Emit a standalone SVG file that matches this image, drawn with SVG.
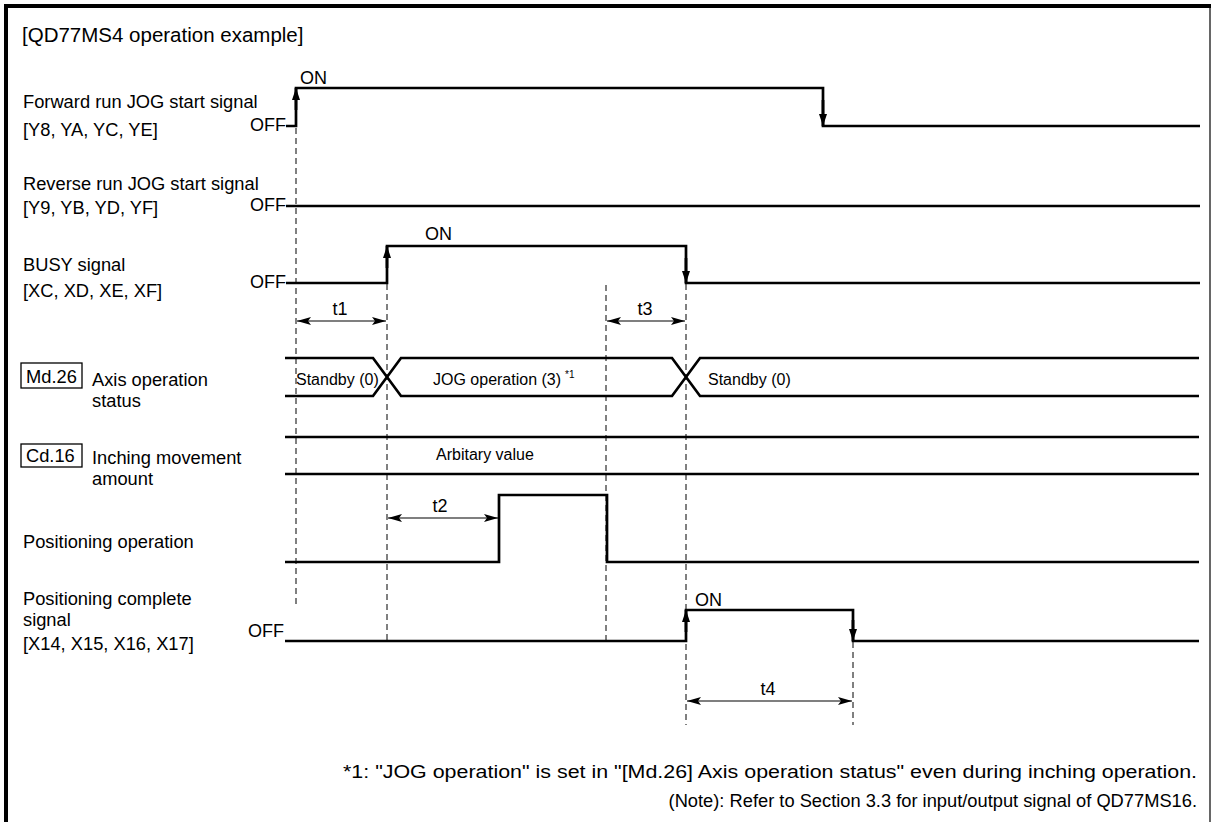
<svg xmlns="http://www.w3.org/2000/svg" width="1214" height="822" viewBox="0 0 1214 822">
<style>
text{font-family:"Liberation Sans",Arial,sans-serif;fill:#000}
.lbl{font-size:18.3px}
.ttl{font-size:20.5px}
.lv{font-size:18px}
.sm{font-size:16px}
.sup{font-size:10px}
.dim{font-size:18px}
.note{font-size:18.3px}
.sig{fill:none;stroke:#000;stroke-width:2.7}
.edge{fill:none;stroke:#000;stroke-width:2.7}
.dash{fill:none;stroke:#000;stroke-width:1;stroke-dasharray:6,4}
.dimln{fill:none;stroke:#000;stroke-width:1.2}
.box{fill:none;stroke:#000;stroke-width:1.3}
</style>
<defs>
<marker id="ah" viewBox="0 0 12 8" refX="12" refY="4" markerWidth="12" markerHeight="8" markerUnits="userSpaceOnUse" orient="auto">
<path d="M0,0 L12,4 L0,8 z" fill="#000"/>
</marker>
<marker id="dh" viewBox="0 0 14 8" refX="14" refY="4" markerWidth="14" markerHeight="8" markerUnits="userSpaceOnUse" orient="auto-start-reverse">
<path d="M0,0 L14,4 L0,8 L3,4 z" fill="#000"/>
</marker>
</defs>
<rect width="1214" height="822" fill="#fff"/>
<g id="frame">
<path d="M6,822 V6 H1211" fill="none" stroke="#000" stroke-width="4"/>
<line x1="1210" y1="6" x2="1210" y2="822" stroke="#000" stroke-width="1.2"/>
<text class="ttl" x="22" y="42">[QD77MS4 operation example]</text>
</g>
<g id="fwd-jog">
<text class="lbl" x="23" y="108">Forward run JOG start signal</text>
<text class="lbl" x="23" y="136">[Y8, YA, YC, YE]</text>
<text class="lv" x="286" y="131" text-anchor="end">OFF</text>
<text class="lv" x="300" y="84">ON</text>
<path class="sig" d="M286,126 H296 V88 H823 V126 H1200"/>
<path class="edge" d="M296,110 V88" marker-end="url(#ah)"/>
<path class="edge" d="M823,100 V126" marker-end="url(#ah)"/>
</g>
<g id="rev-jog">
<text class="lbl" x="23" y="190">Reverse run JOG start signal</text>
<text class="lbl" x="23" y="214">[Y9, YB, YD, YF]</text>
<text class="lv" x="286" y="211" text-anchor="end">OFF</text>
<path class="sig" d="M286,206 H1200"/>
</g>
<g id="busy">
<text class="lbl" x="23" y="271">BUSY signal</text>
<text class="lbl" x="23" y="297">[XC, XD, XE, XF]</text>
<text class="lv" x="286" y="288" text-anchor="end">OFF</text>
<text class="lv" x="425" y="240">ON</text>
<path class="sig" d="M286,283 H387 V246 H686 V283 H1200"/>
<path class="edge" d="M387,268 V246" marker-end="url(#ah)"/>
<path class="edge" d="M686,258 V283" marker-end="url(#ah)"/>
</g>
<g id="md26">
<rect class="box" x="21" y="363" width="61" height="25"/>
<text class="lbl" x="26" y="383">Md.26</text>
<text class="lbl" x="92" y="386">Axis operation</text>
<text class="lbl" x="92" y="407">status</text>
<path class="sig" d="M285,358 H373 L401,396 H672 L700,358 H1199"/>
<path class="sig" d="M285,396 H373 L401,358 H672 L700,396 H1199"/>
<text class="sm" x="296" y="385">Standby (0)</text>
<text class="sm" x="433" y="385">JOG operation (3)</text>
<text class="sup" x="565" y="378">*1</text>
<text class="sm" x="708" y="385">Standby (0)</text>
</g>
<g id="cd16">
<rect class="box" x="21" y="444" width="61" height="23"/>
<text class="lbl" x="26" y="462">Cd.16</text>
<text class="lbl" x="92" y="464">Inching movement</text>
<text class="lbl" x="92" y="485">amount</text>
<path class="sig" d="M285,437 H1199"/>
<path class="sig" d="M285,474 H1199"/>
<text class="sm" x="436" y="460">Arbitary value</text>
</g>
<g id="pos-op">
<text class="lbl" x="23" y="548">Positioning operation</text>
<path class="sig" d="M285,562 H499 V495 H607 V562 H1199"/>
</g>
<g id="pos-complete">
<text class="lbl" x="23" y="605">Positioning complete</text>
<text class="lbl" x="23" y="626">signal</text>
<text class="lbl" x="23" y="650">[X14, X15, X16, X17]</text>
<text class="lv" x="284" y="637" text-anchor="end">OFF</text>
<text class="lv" x="695" y="606">ON</text>
<path class="sig" d="M285,641 H686 V610 H853 V641 H1199"/>
<path class="edge" d="M686,632 V610" marker-end="url(#ah)"/>
<path class="edge" d="M853,620 V641" marker-end="url(#ah)"/>
</g>
<g id="connectors">
<line class="dash" x1="296" y1="128" x2="296" y2="607"/>
<line class="dash" x1="387" y1="284" x2="387" y2="641"/>
<line class="dash" x1="606" y1="285" x2="606" y2="641"/>
<line class="dash" x1="686" y1="284" x2="686" y2="725"/>
<line class="dash" x1="853" y1="642" x2="853" y2="725"/>
<line class="dimln" x1="297" y1="321" x2="386" y2="321" marker-start="url(#dh)" marker-end="url(#dh)"/>
<text class="dim" x="340" y="315" text-anchor="middle">t1</text>
<line class="dimln" x1="388" y1="518" x2="498" y2="518" marker-start="url(#dh)" marker-end="url(#dh)"/>
<text class="dim" x="440" y="512" text-anchor="middle">t2</text>
<line class="dimln" x1="607" y1="321" x2="685" y2="321" marker-start="url(#dh)" marker-end="url(#dh)"/>
<text class="dim" x="645" y="315" text-anchor="middle">t3</text>
<line class="dimln" x1="687" y1="701" x2="852" y2="701" marker-start="url(#dh)" marker-end="url(#dh)"/>
<text class="dim" x="768" y="695" text-anchor="middle">t4</text>
</g>
<g id="notes">
<text class="note" x="343" y="778" textLength="854" lengthAdjust="spacingAndGlyphs">*1: "JOG operation" is set in "[Md.26] Axis operation status" even during inching operation.</text>
<text class="note" x="1197" y="807" text-anchor="end">(Note): Refer to Section 3.3 for input/output signal of QD77MS16.</text>
</g>
</svg>
